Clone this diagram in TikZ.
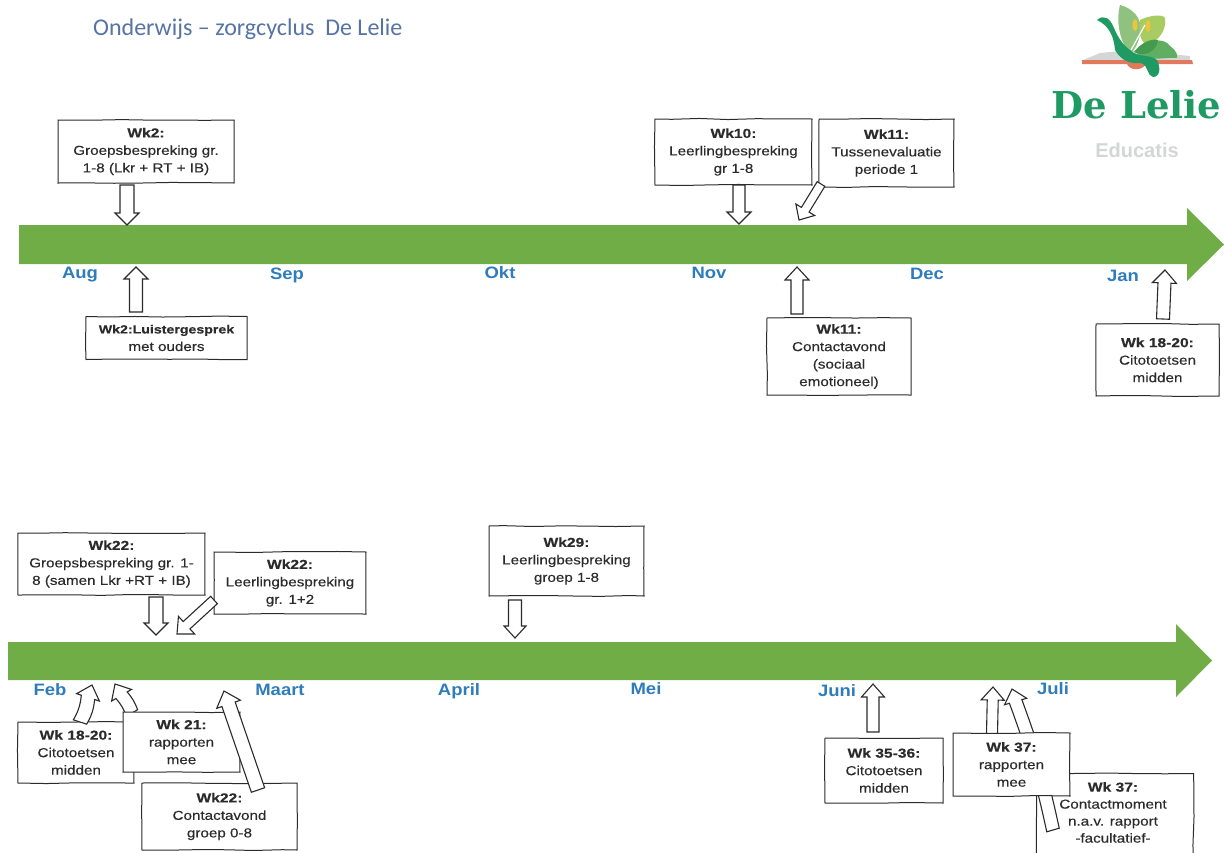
\documentclass[tikz,border=0pt]{standalone}
\usepackage{fontspec}
\usetikzlibrary{calc,decorations.pathmorphing}
\setmainfont{Liberation Sans}
\newfontfamily\boxfont[FakeBold=0.3,FakeStretch=1.17,BoldFeatures={FakeStretch=1.2}]{Liberation Sans}
\newfontfamily\monthfont[FakeStretch=1.12,BoldFeatures={FakeStretch=1.12}]{Liberation Sans}
\newfontfamily\titlefont{Carlito}
\newfontfamily\slabfont{DejaVu Serif}
\definecolor{bargreen}{HTML}{70AD47}
\definecolor{monthblue}{HTML}{2E7CBC}
\definecolor{titleblue}{HTML}{5573A3}
\definecolor{inkgrey}{HTML}{2B2B2B}
\definecolor{logogreen}{HTML}{1F9A63}
\definecolor{logolight}{HTML}{8FC27F}
\definecolor{logomid}{HTML}{5FAE62}
\definecolor{logodeep}{HTML}{449A4E}
\definecolor{logolime}{HTML}{A9CC62}
\definecolor{logored}{HTML}{E2795C}
\definecolor{logoyellow}{HTML}{E9C63C}
\definecolor{logogrey}{HTML}{D4D6D6}
\tikzset{
  evbox/.style={draw=inkgrey,fill=white,line width=1pt,inner sep=0pt,align=center,
    text=inkgrey,font=\boxfont\fontsize{13}{17.5}\selectfont,
    decorate,decoration={random steps,segment length=28pt,amplitude=0.55pt}},
  barrow/.style={draw=inkgrey,fill=white,line width=1.1pt,line join=miter},
  month/.style={text=monthblue,font=\monthfont\bfseries\fontsize{16.5}{18}\selectfont,inner sep=0pt},
  timebar/.style={fill=bargreen,draw=none}
}
% \blockarr[bend]{base}{tip}{shaft half width}{head half width}{head length}
\newcommand{\blockarr}[6][0]{%
  \coordinate (hb) at ($(#3)!#6pt!(#2)$);
  \coordinate (s1) at ($(#2)!#4pt!90:(#3)$);
  \coordinate (s2) at ($(#2)!#4pt!-90:(#3)$);
  \coordinate (t1) at ($(hb)!#4pt!-90:(#3)$);
  \coordinate (t2) at ($(hb)!#4pt!90:(#3)$);
  \coordinate (w1) at ($(hb)!#5pt!-90:(#3)$);
  \coordinate (w2) at ($(hb)!#5pt!90:(#3)$);
  \draw[barrow] (s1) to[bend right=#1] (t2) -- (w2) -- (#3) -- (w1) -- (t1) to[bend left=#1] (s2) -- cycle;
}
\begin{document}
\begin{tikzpicture}[x=1pt,y=-1pt]
\useasboundingbox (0,0) rectangle (1224,852);
\clip (0,0) rectangle (1224,852);
\pgfmathsetseed{7}

% title
\node[anchor=west,inner sep=0pt,text=titleblue,font=\titlefont\fontsize{24}{28}\selectfont] (title) at (93,29) {Onderwijs – zorgcyclus\ \ De Lelie};

% logo
\fill[logogrey] (1083,60) -- (1100,53) -- (1130,50) -- (1190,56) -- (1190,61) -- cycle;
\fill[logored] (1082,60) -- (1192,60) -- (1193,64) -- (1082,64) -- cycle;
\fill[logored] (1127,64) .. controls (1130,71) and (1142,71) .. (1146,64) -- cycle;
\fill[logolight] (1120,5) .. controls (1132,8) and (1143,18) .. (1140,32) .. controls (1140,40) and (1135,50) .. (1130,54) .. controls (1122,45) and (1115,25) .. (1120,5) -- cycle;
\fill[logolime] (1140,20) .. controls (1150,15) and (1163,14) .. (1165,18) .. controls (1167,30) and (1158,42) .. (1147,45) .. controls (1140,42) and (1138,30) .. (1140,20) -- cycle;
\fill[logomid] (1137,54) .. controls (1147,40) and (1163,36) .. (1170,46) .. controls (1176,50) and (1178,55) .. (1177,58) .. controls (1165,57) and (1150,62) .. (1137,54) -- cycle;
\fill[logodeep] (1134,52) .. controls (1140,44) and (1150,38) .. (1158,40) .. controls (1157,50) and (1146,58) .. (1134,52) -- cycle;
\fill[logogreen] (1097,20) .. controls (1104,14) and (1110,18) .. (1114,28) .. controls (1118,38) and (1124,46) .. (1130,50) .. controls (1138,58) and (1150,54) .. (1157,60) .. controls (1161,68) and (1160,77) .. (1153,77) .. controls (1147,76) and (1149,66) .. (1141,63) .. controls (1132,64) and (1122,62) .. (1115,50) .. controls (1114,38) and (1110,26) .. (1097,20) -- cycle;
\draw[white,line width=1.2pt] (1131,50) -- (1145,25);
\fill[logoyellow] (1135,25) ellipse [x radius=2.5,y radius=6];
\fill[logoyellow] (1148,26) ellipse [x radius=2.5,y radius=6];
\node[inner sep=0pt,text=logogreen,font=\slabfont\bfseries\fontsize{37}{39}\selectfont] (logoname) at (1136.5,105) {De Lelie};
\node[inner sep=0pt,text=logogrey,font=\bfseries\fontsize{20}{22}\selectfont] (logosub) at (1137,150) {Educatis};

% time bars
\fill[timebar] (19,225) -- (1187,225) -- (1187,208) -- (1224,244.5) -- (1187,281) -- (1187,264) -- (19,264) -- cycle;
\fill[timebar] (8,642) -- (1176,642) -- (1176,624) -- (1212,660.5) -- (1176,697) -- (1176,680) -- (8,680) -- cycle;

% months
\node[month] (aug) at (80,275) {Aug};
\node[month] (sep) at (287,275) {Sep};
\node[month] (okt) at (500,273) {Okt};
\node[month] (nov) at (709,273) {Nov};
\node[month] (dec) at (927,274) {Dec};
\node[month] (jan) at (1123,276) {Jan};
\node[month] (feb) at (50,690) {Feb};
\node[month] (maart) at (280,690) {Maart};
\node[month] (april) at (459,691) {April};
\node[month] (mei) at (646,689) {Mei};
\node[month] (juni) at (837,691) {Juni};
\node[month] (juli) at (1053,689) {Juli};

% top row
\node[evbox,minimum width=176pt,minimum height=63pt] (a) at (146,151.5) {\textbf{Wk2:}\\Groepsbespreking gr.\\1-8 (Lkr + RT + IB)};
\coordinate (aB) at (127,185); \coordinate (aT) at (127,225);
\blockarr{aB}{aT}{7}{12}{12}

\node[evbox,minimum width=161pt,minimum height=43pt] (b) at (166.5,338) {{\fontsize{11.8}{17.5}\selectfont\textbf{Wk2:Luistergesprek}}\\met ouders};
\coordinate (bB) at (136,312); \coordinate (bT) at (136,267);
\blockarr{bB}{bT}{6.5}{12}{12}

\node[evbox,minimum width=157pt,minimum height=66pt] (c) at (733.5,152) {\textbf{Wk10:}\\Leerlingbespreking\\gr 1-8};
\coordinate (cB) at (739,185); \coordinate (cT) at (739,224);
\blockarr{cB}{cT}{6}{12}{12}

\node[evbox,minimum width=135pt,minimum height=68pt] (d) at (886.5,153) {\textbf{Wk11:}\\Tussenevaluatie\\periode 1};
\coordinate (dB) at (821,184); \coordinate (dT) at (799,220);
\blockarr{dB}{dT}{4.5}{11}{12}

\node[evbox,minimum width=144pt,minimum height=77pt] (e) at (839,356.5) {\textbf{Wk11:}\\Contactavond\\(sociaal\\emotioneel)};
\coordinate (eB) at (797,314); \coordinate (eT) at (797,267);
\blockarr{eB}{eT}{6}{12}{13}

\node[evbox,minimum width=123pt,minimum height=72pt] (f) at (1157.5,360) {\textbf{Wk 18-20:}\\Citotoetsen\\midden};
\coordinate (fB) at (1163,319); \coordinate (fT) at (1165,270);
\blockarr{fB}{fT}{6.5}{12}{13}

% bottom row
\node[evbox,minimum width=187pt,minimum height=62pt] (g) at (111.5,564) {\textbf{Wk22:}\\Groepsbespreking gr. 1-\\8 (samen Lkr +RT + IB)};
\coordinate (gB) at (156,597); \coordinate (gT) at (156,635);
\blockarr{gB}{gT}{7}{12}{12}

\node[evbox,minimum width=152pt,minimum height=62pt] (h) at (290,583) {\textbf{Wk22:}\\Leerlingbespreking\\gr. 1+2};
\coordinate (hB) at (214,600); \coordinate (hT) at (177,634);
\blockarr{hB}{hT}{5}{12}{13}

\node[evbox,minimum width=155pt,minimum height=70pt] (i) at (566.5,561) {\textbf{Wk29:}\\Leerlingbespreking\\groep 1-8};
\coordinate (iB) at (515,600); \coordinate (iT) at (515,638);
\blockarr{iB}{iT}{6.5}{11}{12}

\node[evbox,minimum width=116pt,minimum height=61pt] (j) at (76,752.5) {\textbf{Wk 18-20:}\\Citotoetsen\\midden};
\coordinate (jB) at (80,722); \coordinate (jT) at (92,685);
\blockarr[12]{jB}{jT}{7}{12}{13}

\coordinate (kB) at (132,713); \coordinate (kT) at (115,684);
\blockarr[10]{kB}{kT}{6.5}{11.5}{13}
\node[evbox,minimum width=117pt,minimum height=60pt] (k) at (181.5,742) {\textbf{Wk 21:}\\rapporten\\mee};

\node[evbox,minimum width=155pt,minimum height=67pt] (l) at (219.5,816.5) {\textbf{Wk22:}\\Contactavond\\groep 0-8};
\coordinate (lB) at (258,790); \coordinate (lT) at (224,691);
\blockarr{lB}{lT}{7}{12.5}{14}

\node[evbox,minimum width=118pt,minimum height=65pt] (m) at (884,770.5) {\textbf{Wk 35-36:}\\Citotoetsen\\midden};
\coordinate (mB) at (873,732); \coordinate (mT) at (873,684);
\blockarr{mB}{mT}{6}{11.5}{13}

\node[evbox,minimum width=157pt,minimum height=100pt,anchor=north west] (n) at (1036,773) {};
\node[inner sep=0pt,align=center,text=inkgrey,font=\boxfont\fontsize{13}{17}\selectfont,anchor=north] (ntext) at (1113,782) {\textbf{Wk 37:}\\Contactmoment\\n.a.v. rapport\\-facultatief-};
\coordinate (nB) at (1053,830); \coordinate (nT) at (1012,689);
\blockarr[4]{nB}{nT}{6.5}{11.5}{13}

\coordinate (oB) at (992,734); \coordinate (oT) at (993,687);
\blockarr{oB}{oT}{5.5}{11.5}{13}
\node[evbox,minimum width=117pt,minimum height=63pt] (o) at (1011.5,764.5) {\textbf{Wk 37:}\\rapporten\\mee};
\end{tikzpicture}
\end{document}
